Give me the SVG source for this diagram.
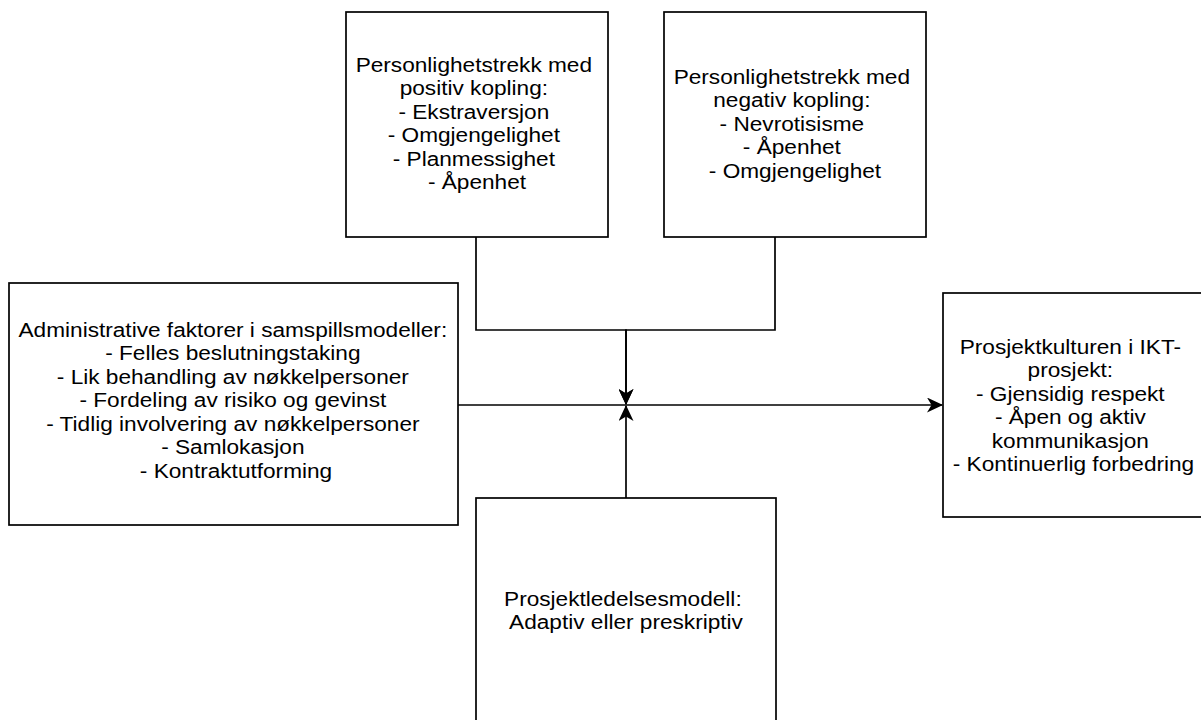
<svg xmlns="http://www.w3.org/2000/svg" width="1201" height="720" viewBox="0 0 1201 720">
  <defs>
    <style>
      .box { fill: #ffffff; stroke: #000000; stroke-width: 1.7; }
      .edge { fill: none; stroke: #000000; stroke-width: 1.7; }
      .label { font-family: "Liberation Sans", Arial, Helvetica, sans-serif; font-size: 19.6px; fill: #000000; text-anchor: middle; }
    </style>
    <!-- classic notched arrowhead, tip at the path end -->
    <marker id="arrow" viewBox="0 0 16 15" refX="15" refY="7.5" markerWidth="16" markerHeight="15" markerUnits="userSpaceOnUse" orient="auto">
      <path d="M0,0 L16,7.5 L0,15 L4.5,7.5 Z" fill="#000000"/>
    </marker>
  </defs>

  <rect width="1201" height="720" fill="#ffffff"/>

  <!-- connectors -->
  <g id="connectors">
    <path class="edge" d="M476,237 V330 H626 V404" marker-end="url(#arrow)"/>
    <path class="edge" d="M775,237 V330 H626 V404" marker-end="url(#arrow)"/>
    <path class="edge" d="M626,498 V406" marker-end="url(#arrow)"/>
    <path class="edge" d="M458,405 H942" marker-end="url(#arrow)"/>
  </g>

  <!-- positive traits -->
  <g id="node-positive">
    <rect class="box" x="346" y="12" width="262" height="225"/>
    <text class="label" transform="translate(477 0) scale(1.155 1)">
      <tspan x="0" y="72">Personlighetstrekk med</tspan>
      <tspan x="0" y="95.5">positiv kopling:</tspan>
      <tspan x="0" y="119">- Ekstraversjon</tspan>
      <tspan x="0" y="142.5">- Omgjengelighet</tspan>
      <tspan x="0" y="166">- Planmessighet</tspan>
      <tspan x="0" y="189.5">- Åpenhet</tspan>
    </text>
  </g>

  <!-- negative traits -->
  <g id="node-negative">
    <rect class="box" x="664" y="12" width="262" height="225"/>
    <text class="label" transform="translate(795 0) scale(1.155 1)">
      <tspan x="0" y="84">Personlighetstrekk med</tspan>
      <tspan x="0" y="107.5">negativ kopling:</tspan>
      <tspan x="0" y="131">- Nevrotisisme</tspan>
      <tspan x="0" y="154.5">- Åpenhet</tspan>
      <tspan x="0" y="178">- Omgjengelighet</tspan>
    </text>
  </g>

  <!-- administrative factors -->
  <g id="node-admin">
    <rect class="box" x="9" y="283" width="449" height="242"/>
    <text class="label" transform="translate(236 0) scale(1.155 1)">
      <tspan x="0" y="337">Administrative faktorer i samspillsmodeller:</tspan>
      <tspan x="0" y="360.5">- Felles beslutningstaking</tspan>
      <tspan x="0" y="384">- Lik behandling av nøkkelpersoner</tspan>
      <tspan x="0" y="407.5">- Fordeling av risiko og gevinst</tspan>
      <tspan x="0" y="431">- Tidlig involvering av nøkkelpersoner</tspan>
      <tspan x="0" y="454.5">- Samlokasjon</tspan>
      <tspan x="0" y="478">- Kontraktutforming</tspan>
    </text>
  </g>

  <!-- project culture -->
  <g id="node-culture">
    <rect class="box" x="943" y="293" width="261" height="224"/>
    <text class="label" transform="translate(1073.5 0) scale(1.155 1)">
      <tspan x="0" y="354">Prosjektkulturen i IKT-</tspan>
      <tspan x="0" y="377.5">prosjekt:</tspan>
      <tspan x="0" y="401">- Gjensidig respekt</tspan>
      <tspan x="0" y="424.5">- Åpen og aktiv</tspan>
      <tspan x="0" y="448">kommunikasjon</tspan>
      <tspan x="0" y="471.5">- Kontinuerlig forbedring</tspan>
    </text>
  </g>

  <!-- project management model -->
  <g id="node-model">
    <rect class="box" x="476" y="498" width="300" height="228"/>
    <text class="label" transform="translate(626 0) scale(1.155 1)">
      <tspan x="0" y="606">Prosjektledelsesmodell:</tspan>
      <tspan x="0" y="629.5">Adaptiv eller preskriptiv</tspan>
    </text>
  </g>
</svg>
